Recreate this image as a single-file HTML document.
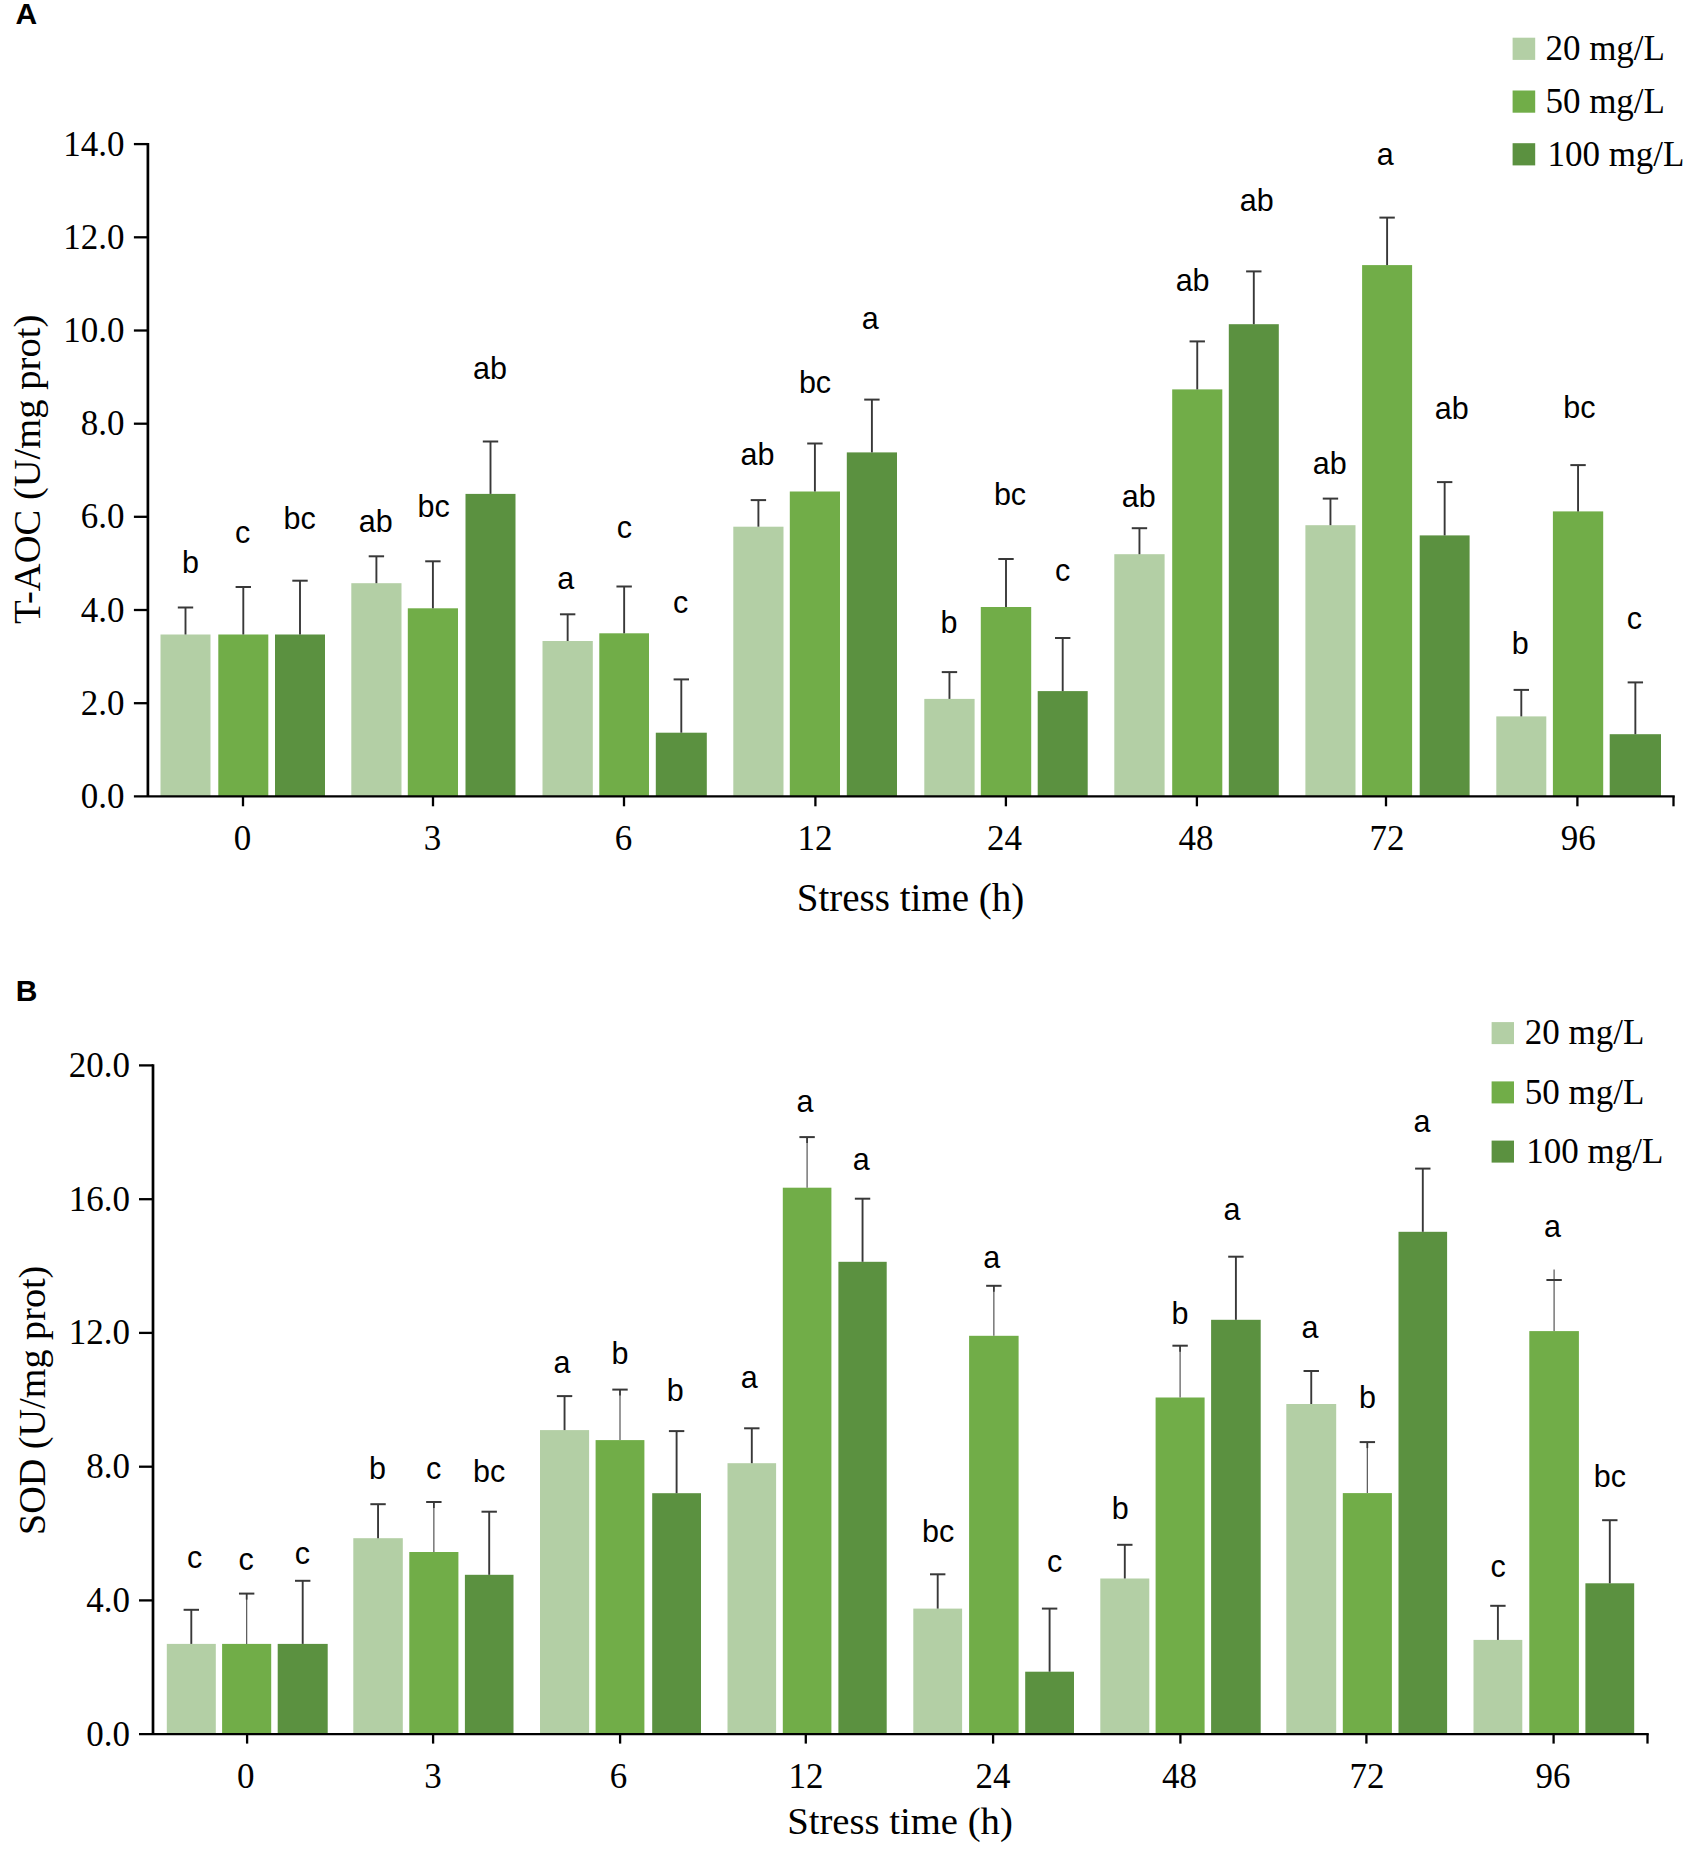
<!DOCTYPE html>
<html lang="en">
<head>
<meta charset="utf-8">
<title>T-AOC and SOD under stress</title>
<style>
html,body{margin:0;padding:0;background:#fff;}
svg{display:block;}
text{fill:#000;}
</style>
</head>
<body>
<svg width="1694" height="1862" viewBox="0 0 1694 1862">
<rect width="1694" height="1862" fill="#fff"/>
<g id="panelA">
<rect x="160.5" y="634.5" width="50" height="161.9" fill="#b3cfa5"/>
<rect x="218.3" y="634.5" width="50" height="161.9" fill="#71ad48"/>
<rect x="275" y="634.5" width="50" height="161.9" fill="#5b9140"/>
<rect x="351.3" y="583.2" width="50.2" height="213.2" fill="#b3cfa5"/>
<rect x="407.8" y="608.3" width="50.2" height="188.1" fill="#71ad48"/>
<rect x="465.5" y="493.9" width="50" height="302.5" fill="#5b9140"/>
<rect x="542.5" y="641" width="50.3" height="155.4" fill="#b3cfa5"/>
<rect x="599.3" y="633.3" width="49.7" height="163.1" fill="#71ad48"/>
<rect x="655.8" y="732.7" width="51" height="63.7" fill="#5b9140"/>
<rect x="733.3" y="526.7" width="50.2" height="269.7" fill="#b3cfa5"/>
<rect x="789.8" y="491.5" width="50.2" height="304.9" fill="#71ad48"/>
<rect x="846.8" y="452.4" width="50.2" height="344" fill="#5b9140"/>
<rect x="924.3" y="698.9" width="50.3" height="97.5" fill="#b3cfa5"/>
<rect x="980.8" y="607" width="50.4" height="189.4" fill="#71ad48"/>
<rect x="1037.7" y="691.1" width="50" height="105.3" fill="#5b9140"/>
<rect x="1114.3" y="554.2" width="50.3" height="242.2" fill="#b3cfa5"/>
<rect x="1172.2" y="389.4" width="50.1" height="407" fill="#71ad48"/>
<rect x="1228.8" y="324.2" width="50" height="472.2" fill="#5b9140"/>
<rect x="1305.4" y="525.2" width="50.1" height="271.2" fill="#b3cfa5"/>
<rect x="1362.1" y="265.1" width="50" height="531.3" fill="#71ad48"/>
<rect x="1419.7" y="535.4" width="49.9" height="261" fill="#5b9140"/>
<rect x="1496.3" y="716.4" width="50" height="80" fill="#b3cfa5"/>
<rect x="1552.9" y="511.4" width="50.3" height="285" fill="#71ad48"/>
<rect x="1609.7" y="734.2" width="51.3" height="62.2" fill="#5b9140"/>
<line x1="185.5" y1="634.5" x2="185.5" y2="607.5" stroke="#383838" stroke-width="1.9"/>
<line x1="177.8" y1="607.5" x2="193.2" y2="607.5" stroke="#383838" stroke-width="2"/>
<line x1="243.3" y1="634.5" x2="243.3" y2="587" stroke="#383838" stroke-width="1.9"/>
<line x1="235.6" y1="587" x2="251" y2="587" stroke="#383838" stroke-width="2"/>
<line x1="300" y1="634.5" x2="300" y2="580.7" stroke="#383838" stroke-width="1.9"/>
<line x1="292.3" y1="580.7" x2="307.7" y2="580.7" stroke="#383838" stroke-width="2"/>
<line x1="376.4" y1="583.2" x2="376.4" y2="556.3" stroke="#383838" stroke-width="1.9"/>
<line x1="368.7" y1="556.3" x2="384.1" y2="556.3" stroke="#383838" stroke-width="2"/>
<line x1="432.9" y1="608.3" x2="432.9" y2="561.3" stroke="#383838" stroke-width="1.9"/>
<line x1="425.2" y1="561.3" x2="440.6" y2="561.3" stroke="#383838" stroke-width="2"/>
<line x1="490.5" y1="493.9" x2="490.5" y2="441.5" stroke="#383838" stroke-width="1.9"/>
<line x1="482.8" y1="441.5" x2="498.2" y2="441.5" stroke="#383838" stroke-width="2"/>
<line x1="567.65" y1="641" x2="567.65" y2="614.3" stroke="#383838" stroke-width="1.9"/>
<line x1="559.95" y1="614.3" x2="575.35" y2="614.3" stroke="#383838" stroke-width="2"/>
<line x1="624.15" y1="633.3" x2="624.15" y2="586.5" stroke="#383838" stroke-width="1.9"/>
<line x1="616.45" y1="586.5" x2="631.85" y2="586.5" stroke="#383838" stroke-width="2"/>
<line x1="681.3" y1="732.7" x2="681.3" y2="679.4" stroke="#383838" stroke-width="1.9"/>
<line x1="673.6" y1="679.4" x2="689" y2="679.4" stroke="#383838" stroke-width="2"/>
<line x1="758.4" y1="526.7" x2="758.4" y2="500.1" stroke="#383838" stroke-width="1.9"/>
<line x1="750.7" y1="500.1" x2="766.1" y2="500.1" stroke="#383838" stroke-width="2"/>
<line x1="814.9" y1="491.5" x2="814.9" y2="443.5" stroke="#383838" stroke-width="1.9"/>
<line x1="807.2" y1="443.5" x2="822.6" y2="443.5" stroke="#383838" stroke-width="2"/>
<line x1="871.9" y1="452.4" x2="871.9" y2="399.6" stroke="#383838" stroke-width="1.9"/>
<line x1="864.2" y1="399.6" x2="879.6" y2="399.6" stroke="#383838" stroke-width="2"/>
<line x1="949.45" y1="698.9" x2="949.45" y2="672.1" stroke="#383838" stroke-width="1.9"/>
<line x1="941.75" y1="672.1" x2="957.15" y2="672.1" stroke="#383838" stroke-width="2"/>
<line x1="1006" y1="607" x2="1006" y2="559" stroke="#383838" stroke-width="1.9"/>
<line x1="998.3" y1="559" x2="1013.7" y2="559" stroke="#383838" stroke-width="2"/>
<line x1="1062.7" y1="691.1" x2="1062.7" y2="638" stroke="#383838" stroke-width="1.9"/>
<line x1="1055" y1="638" x2="1070.4" y2="638" stroke="#383838" stroke-width="2"/>
<line x1="1139.45" y1="554.2" x2="1139.45" y2="528.2" stroke="#383838" stroke-width="1.9"/>
<line x1="1131.75" y1="528.2" x2="1147.15" y2="528.2" stroke="#383838" stroke-width="2"/>
<line x1="1197.25" y1="389.4" x2="1197.25" y2="341.4" stroke="#383838" stroke-width="1.9"/>
<line x1="1189.55" y1="341.4" x2="1204.95" y2="341.4" stroke="#383838" stroke-width="2"/>
<line x1="1253.8" y1="324.2" x2="1253.8" y2="271.4" stroke="#383838" stroke-width="1.9"/>
<line x1="1246.1" y1="271.4" x2="1261.5" y2="271.4" stroke="#383838" stroke-width="2"/>
<line x1="1330.45" y1="525.2" x2="1330.45" y2="498.6" stroke="#383838" stroke-width="1.9"/>
<line x1="1322.75" y1="498.6" x2="1338.15" y2="498.6" stroke="#383838" stroke-width="2"/>
<line x1="1387.1" y1="265.1" x2="1387.1" y2="217.6" stroke="#383838" stroke-width="1.9"/>
<line x1="1379.4" y1="217.6" x2="1394.8" y2="217.6" stroke="#383838" stroke-width="2"/>
<line x1="1444.65" y1="535.4" x2="1444.65" y2="482.1" stroke="#383838" stroke-width="1.9"/>
<line x1="1436.95" y1="482.1" x2="1452.35" y2="482.1" stroke="#383838" stroke-width="2"/>
<line x1="1521.3" y1="716.4" x2="1521.3" y2="689.9" stroke="#383838" stroke-width="1.9"/>
<line x1="1513.6" y1="689.9" x2="1529" y2="689.9" stroke="#383838" stroke-width="2"/>
<line x1="1578.05" y1="511.4" x2="1578.05" y2="465.1" stroke="#383838" stroke-width="1.9"/>
<line x1="1570.35" y1="465.1" x2="1585.75" y2="465.1" stroke="#383838" stroke-width="2"/>
<line x1="1635.35" y1="734.2" x2="1635.35" y2="682.4" stroke="#383838" stroke-width="1.9"/>
<line x1="1627.65" y1="682.4" x2="1643.05" y2="682.4" stroke="#383838" stroke-width="2"/>
<g stroke="#000" stroke-width="2.3" fill="none">
<path stroke-width="2.7" d="M147.9 142.95V796.4"/>
<path d="M133.9 796.4H1674.75"/>
<path d="M133.9 144.1H147.9"/>
<path d="M133.9 237.3H147.9"/>
<path d="M133.9 330.5H147.9"/>
<path d="M133.9 423.7H147.9"/>
<path d="M133.9 516.8H147.9"/>
<path d="M133.9 610H147.9"/>
<path d="M133.9 703.2H147.9"/>
<path d="M243 796.4V806.3"/>
<path d="M433 796.4V806.3"/>
<path d="M624 796.4V806.3"/>
<path d="M815.4 796.4V806.3"/>
<path d="M1005.9 796.4V806.3"/>
<path d="M1196.9 796.4V806.3"/>
<path d="M1386 796.4V806.3"/>
<path d="M1577.4 796.4V806.3"/>
<path d="M1673.5 796.4V806.3"/>
</g>
<g font-family='"Liberation Serif", "DejaVu Serif", serif' font-size="35" fill="#000">
<text x="124.6" y="155.7" text-anchor="end">14.0</text>
<text x="124.6" y="248.9" text-anchor="end">12.0</text>
<text x="124.6" y="342.1" text-anchor="end">10.0</text>
<text x="124.6" y="435.3" text-anchor="end">8.0</text>
<text x="124.6" y="528.4" text-anchor="end">6.0</text>
<text x="124.6" y="621.6" text-anchor="end">4.0</text>
<text x="124.6" y="714.8" text-anchor="end">2.0</text>
<text x="124.6" y="808" text-anchor="end">0.0</text>
<text x="242.4" y="850.4" text-anchor="middle">0</text>
<text x="432.5" y="850.4" text-anchor="middle">3</text>
<text x="623.6" y="850.4" text-anchor="middle">6</text>
<text x="815.1" y="850.4" text-anchor="middle">12</text>
<text x="1004.4" y="850.4" text-anchor="middle">24</text>
<text x="1195.9" y="850.4" text-anchor="middle">48</text>
<text x="1387.1" y="850.4" text-anchor="middle">72</text>
<text x="1578.2" y="850.4" text-anchor="middle">96</text>
</g>
<text x="910.5" y="910.9" text-anchor="middle" font-family='"Liberation Serif", "DejaVu Serif", serif' font-size="39">Stress time (h)</text>
<text transform="translate(40 469.4) rotate(-90)" text-anchor="middle" font-family='"Liberation Serif", "DejaVu Serif", serif' font-size="38.6">T-AOC (U/mg prot)</text>
<g font-family='"Liberation Sans", "DejaVu Sans", sans-serif' font-size="30.5" fill="#000" text-anchor="middle">
<text x="190.5" y="572.7">b</text>
<text x="242.5" y="543">c</text>
<text x="299.6" y="528.6">bc</text>
<text x="375.8" y="532">ab</text>
<text x="433.6" y="517">bc</text>
<text x="490" y="378.8">ab</text>
<text x="565.8" y="588.8">a</text>
<text x="624.4" y="538.3">c</text>
<text x="680.6" y="612.8">c</text>
<text x="757.5" y="464.5">ab</text>
<text x="815" y="392.8">bc</text>
<text x="870.2" y="329">a</text>
<text x="949" y="633">b</text>
<text x="1010" y="504.6">bc</text>
<text x="1062.5" y="580.5">c</text>
<text x="1138.8" y="507">ab</text>
<text x="1192.6" y="291.3">ab</text>
<text x="1256.7" y="211.3">ab</text>
<text x="1329.8" y="474">ab</text>
<text x="1385.2" y="164.5">a</text>
<text x="1451.8" y="419">ab</text>
<text x="1520.3" y="654.3">b</text>
<text x="1579.4" y="418.3">bc</text>
<text x="1634.3" y="628.5">c</text>
</g>
<rect x="1512.6" y="37.7" width="22.6" height="22.2" fill="#b3cfa5"/>
<text x="1545.4" y="60.2" font-family='"Liberation Serif", "DejaVu Serif", serif' font-size="35">20 mg/L</text>
<rect x="1512.6" y="90.5" width="22.6" height="22.2" fill="#71ad48"/>
<text x="1545.4" y="113.1" font-family='"Liberation Serif", "DejaVu Serif", serif' font-size="35">50 mg/L</text>
<rect x="1512.6" y="143.2" width="22.6" height="22.2" fill="#5b9140"/>
<text x="1547.4" y="165.9" font-family='"Liberation Serif", "DejaVu Serif", serif' font-size="35">100 mg/L</text>
<text x="15.6" y="23.9" font-family='"Liberation Sans", "DejaVu Sans", sans-serif' font-weight="bold" font-size="30">A</text>
</g>
<g id="panelB">
<rect x="166.8" y="1643.9" width="49" height="90.3" fill="#b3cfa5"/>
<rect x="222.1" y="1643.9" width="49.1" height="90.3" fill="#71ad48"/>
<rect x="277.7" y="1643.9" width="50" height="90.3" fill="#5b9140"/>
<rect x="353.3" y="1538.2" width="49.5" height="196" fill="#b3cfa5"/>
<rect x="409.3" y="1552" width="49.1" height="182.2" fill="#71ad48"/>
<rect x="464.9" y="1574.8" width="48.6" height="159.4" fill="#5b9140"/>
<rect x="540" y="1430.1" width="49.1" height="304.1" fill="#b3cfa5"/>
<rect x="595.6" y="1440.1" width="48.8" height="294.1" fill="#71ad48"/>
<rect x="652.2" y="1493.2" width="48.8" height="241" fill="#5b9140"/>
<rect x="727.5" y="1463.2" width="48.6" height="271" fill="#b3cfa5"/>
<rect x="782.8" y="1187.7" width="48.6" height="546.5" fill="#71ad48"/>
<rect x="838.4" y="1261.8" width="48.3" height="472.4" fill="#5b9140"/>
<rect x="913.3" y="1608.6" width="48.8" height="125.6" fill="#b3cfa5"/>
<rect x="969.1" y="1335.8" width="49.5" height="398.4" fill="#71ad48"/>
<rect x="1025.2" y="1671.7" width="48.8" height="62.5" fill="#5b9140"/>
<rect x="1100.3" y="1578.5" width="49" height="155.7" fill="#b3cfa5"/>
<rect x="1155.6" y="1397.5" width="49" height="336.7" fill="#71ad48"/>
<rect x="1211.1" y="1319.8" width="49.6" height="414.4" fill="#5b9140"/>
<rect x="1286.3" y="1404" width="49.9" height="330.2" fill="#b3cfa5"/>
<rect x="1342.8" y="1493.1" width="49.1" height="241.1" fill="#71ad48"/>
<rect x="1398.5" y="1231.8" width="48.6" height="502.4" fill="#5b9140"/>
<rect x="1473.5" y="1639.9" width="48.8" height="94.3" fill="#b3cfa5"/>
<rect x="1529.3" y="1331.1" width="49.6" height="403.1" fill="#71ad48"/>
<rect x="1585.4" y="1583.3" width="48.8" height="150.9" fill="#5b9140"/>
<line x1="191.3" y1="1643.9" x2="191.3" y2="1609.8" stroke="#383838" stroke-width="1.9"/>
<line x1="183.6" y1="1609.8" x2="199" y2="1609.8" stroke="#383838" stroke-width="2"/>
<line x1="246.65" y1="1643.9" x2="246.65" y2="1593.6" stroke="#5c5c5c" stroke-width="1.25"/>
<line x1="246.65" y1="1593.6" x2="246.65" y2="1599.6" stroke="#383838" stroke-width="1.7"/>
<line x1="238.95" y1="1593.6" x2="254.35" y2="1593.6" stroke="#383838" stroke-width="2"/>
<line x1="302.7" y1="1643.9" x2="302.7" y2="1580.8" stroke="#383838" stroke-width="1.9"/>
<line x1="295" y1="1580.8" x2="310.4" y2="1580.8" stroke="#383838" stroke-width="2"/>
<line x1="378.05" y1="1538.2" x2="378.05" y2="1504.2" stroke="#383838" stroke-width="1.9"/>
<line x1="370.35" y1="1504.2" x2="385.75" y2="1504.2" stroke="#383838" stroke-width="2"/>
<line x1="433.85" y1="1552" x2="433.85" y2="1502" stroke="#5c5c5c" stroke-width="1.25"/>
<line x1="433.85" y1="1502" x2="433.85" y2="1508" stroke="#383838" stroke-width="1.7"/>
<line x1="426.15" y1="1502" x2="441.55" y2="1502" stroke="#383838" stroke-width="2"/>
<line x1="489.2" y1="1574.8" x2="489.2" y2="1511.7" stroke="#383838" stroke-width="1.9"/>
<line x1="481.5" y1="1511.7" x2="496.9" y2="1511.7" stroke="#383838" stroke-width="2"/>
<line x1="564.55" y1="1430.1" x2="564.55" y2="1396.1" stroke="#383838" stroke-width="1.9"/>
<line x1="556.85" y1="1396.1" x2="572.25" y2="1396.1" stroke="#383838" stroke-width="2"/>
<line x1="620" y1="1440.1" x2="620" y2="1389.6" stroke="#5c5c5c" stroke-width="1.25"/>
<line x1="620" y1="1389.6" x2="620" y2="1395.6" stroke="#383838" stroke-width="1.7"/>
<line x1="612.3" y1="1389.6" x2="627.7" y2="1389.6" stroke="#383838" stroke-width="2"/>
<line x1="676.6" y1="1493.2" x2="676.6" y2="1431.1" stroke="#383838" stroke-width="1.9"/>
<line x1="668.9" y1="1431.1" x2="684.3" y2="1431.1" stroke="#383838" stroke-width="2"/>
<line x1="751.8" y1="1463.2" x2="751.8" y2="1428.3" stroke="#383838" stroke-width="1.9"/>
<line x1="744.1" y1="1428.3" x2="759.5" y2="1428.3" stroke="#383838" stroke-width="2"/>
<line x1="807.1" y1="1187.7" x2="807.1" y2="1137.1" stroke="#5c5c5c" stroke-width="1.25"/>
<line x1="807.1" y1="1137.1" x2="807.1" y2="1143.1" stroke="#383838" stroke-width="1.7"/>
<line x1="799.4" y1="1137.1" x2="814.8" y2="1137.1" stroke="#383838" stroke-width="2"/>
<line x1="862.55" y1="1261.8" x2="862.55" y2="1198.7" stroke="#383838" stroke-width="1.9"/>
<line x1="854.85" y1="1198.7" x2="870.25" y2="1198.7" stroke="#383838" stroke-width="2"/>
<line x1="937.7" y1="1608.6" x2="937.7" y2="1574.3" stroke="#383838" stroke-width="1.9"/>
<line x1="930" y1="1574.3" x2="945.4" y2="1574.3" stroke="#383838" stroke-width="2"/>
<line x1="993.85" y1="1335.8" x2="993.85" y2="1285.8" stroke="#5c5c5c" stroke-width="1.25"/>
<line x1="993.85" y1="1285.8" x2="993.85" y2="1291.8" stroke="#383838" stroke-width="1.7"/>
<line x1="986.15" y1="1285.8" x2="1001.55" y2="1285.8" stroke="#383838" stroke-width="2"/>
<line x1="1049.6" y1="1671.7" x2="1049.6" y2="1608.6" stroke="#383838" stroke-width="1.9"/>
<line x1="1041.9" y1="1608.6" x2="1057.3" y2="1608.6" stroke="#383838" stroke-width="2"/>
<line x1="1124.8" y1="1578.5" x2="1124.8" y2="1544.8" stroke="#383838" stroke-width="1.9"/>
<line x1="1117.1" y1="1544.8" x2="1132.5" y2="1544.8" stroke="#383838" stroke-width="2"/>
<line x1="1180.1" y1="1397.5" x2="1180.1" y2="1345.7" stroke="#5c5c5c" stroke-width="1.25"/>
<line x1="1180.1" y1="1345.7" x2="1180.1" y2="1351.7" stroke="#383838" stroke-width="1.7"/>
<line x1="1172.4" y1="1345.7" x2="1187.8" y2="1345.7" stroke="#383838" stroke-width="2"/>
<line x1="1235.9" y1="1319.8" x2="1235.9" y2="1256.7" stroke="#383838" stroke-width="1.9"/>
<line x1="1228.2" y1="1256.7" x2="1243.6" y2="1256.7" stroke="#383838" stroke-width="2"/>
<line x1="1311.25" y1="1404" x2="1311.25" y2="1371" stroke="#383838" stroke-width="1.9"/>
<line x1="1303.55" y1="1371" x2="1318.95" y2="1371" stroke="#383838" stroke-width="2"/>
<line x1="1367.35" y1="1493.1" x2="1367.35" y2="1442.1" stroke="#5c5c5c" stroke-width="1.25"/>
<line x1="1367.35" y1="1442.1" x2="1367.35" y2="1448.1" stroke="#383838" stroke-width="1.7"/>
<line x1="1359.65" y1="1442.1" x2="1375.05" y2="1442.1" stroke="#383838" stroke-width="2"/>
<line x1="1422.8" y1="1231.8" x2="1422.8" y2="1168.6" stroke="#383838" stroke-width="1.9"/>
<line x1="1415.1" y1="1168.6" x2="1430.5" y2="1168.6" stroke="#383838" stroke-width="2"/>
<line x1="1497.9" y1="1639.9" x2="1497.9" y2="1605.8" stroke="#383838" stroke-width="1.9"/>
<line x1="1490.2" y1="1605.8" x2="1505.6" y2="1605.8" stroke="#383838" stroke-width="2"/>
<line x1="1554.1" y1="1331.1" x2="1554.1" y2="1269.5" stroke="#5c5c5c" stroke-width="1.25"/>
<line x1="1546.4" y1="1280" x2="1561.8" y2="1280" stroke="#383838" stroke-width="2"/>
<line x1="1609.8" y1="1583.3" x2="1609.8" y2="1520.2" stroke="#383838" stroke-width="1.9"/>
<line x1="1602.1" y1="1520.2" x2="1617.5" y2="1520.2" stroke="#383838" stroke-width="2"/>
<g stroke="#000" stroke-width="2.3" fill="none">
<path stroke-width="2.7" d="M153 1064.25V1734.2"/>
<path d="M139 1734.2H1648.75"/>
<path d="M139 1065.4H153"/>
<path d="M139 1199.2H153"/>
<path d="M139 1332.9H153"/>
<path d="M139 1466.7H153"/>
<path d="M139 1600.4H153"/>
<path d="M247.1 1734.2V1743.6"/>
<path d="M433.1 1734.2V1743.6"/>
<path d="M620.1 1734.2V1743.6"/>
<path d="M805.8 1734.2V1743.6"/>
<path d="M993.1 1734.2V1743.6"/>
<path d="M1180.4 1734.2V1743.6"/>
<path d="M1366.4 1734.2V1743.6"/>
<path d="M1553.6 1734.2V1743.6"/>
<path d="M1647.5 1734.2V1743.6"/>
</g>
<g font-family='"Liberation Serif", "DejaVu Serif", serif' font-size="35" fill="#000">
<text x="129.9" y="1076.8" text-anchor="end">20.0</text>
<text x="129.9" y="1210.6" text-anchor="end">16.0</text>
<text x="129.9" y="1344.3" text-anchor="end">12.0</text>
<text x="129.9" y="1478.1" text-anchor="end">8.0</text>
<text x="129.9" y="1611.8" text-anchor="end">4.0</text>
<text x="129.9" y="1745.6" text-anchor="end">0.0</text>
<text x="245.7" y="1787.6" text-anchor="middle">0</text>
<text x="432.9" y="1787.6" text-anchor="middle">3</text>
<text x="618.5" y="1787.6" text-anchor="middle">6</text>
<text x="806" y="1787.6" text-anchor="middle">12</text>
<text x="992.9" y="1787.6" text-anchor="middle">24</text>
<text x="1179.5" y="1787.6" text-anchor="middle">48</text>
<text x="1366.9" y="1787.6" text-anchor="middle">72</text>
<text x="1552.9" y="1787.6" text-anchor="middle">96</text>
</g>
<text x="900" y="1833.5" text-anchor="middle" font-family='"Liberation Serif", "DejaVu Serif", serif' font-size="38.7">Stress time (h)</text>
<text transform="translate(45 1400.4) rotate(-90)" text-anchor="middle" font-family='"Liberation Serif", "DejaVu Serif", serif' font-size="38.2">SOD (U/mg prot)</text>
<g font-family='"Liberation Sans", "DejaVu Sans", sans-serif' font-size="30.5" fill="#000" text-anchor="middle">
<text x="194.7" y="1568.3">c</text>
<text x="246.1" y="1570.3">c</text>
<text x="302.4" y="1563.5">c</text>
<text x="377.4" y="1479.2">b</text>
<text x="433.5" y="1479.2">c</text>
<text x="489.2" y="1482.2">bc</text>
<text x="562.1" y="1372.5">a</text>
<text x="620.1" y="1364.3">b</text>
<text x="675.3" y="1400.8">b</text>
<text x="749.3" y="1387.7">a</text>
<text x="805" y="1111.8">a</text>
<text x="861.3" y="1169.6">a</text>
<text x="938.2" y="1542">bc</text>
<text x="991.7" y="1267.8">a</text>
<text x="1054.6" y="1571.5">c</text>
<text x="1120.3" y="1519.2">b</text>
<text x="1180.1" y="1324.1">b</text>
<text x="1232" y="1220.2">a</text>
<text x="1310.1" y="1338.3">a</text>
<text x="1367.4" y="1407.5">b</text>
<text x="1422" y="1132.1">a</text>
<text x="1498.2" y="1577.3">c</text>
<text x="1552.6" y="1236.8">a</text>
<text x="1609.8" y="1487.2">bc</text>
</g>
<rect x="1491.6" y="1022.1" width="22.4" height="22" fill="#b3cfa5"/>
<text x="1524.7" y="1043.9" font-family='"Liberation Serif", "DejaVu Serif", serif' font-size="35">20 mg/L</text>
<rect x="1491.6" y="1081.4" width="22.4" height="22" fill="#71ad48"/>
<text x="1524.7" y="1103.8" font-family='"Liberation Serif", "DejaVu Serif", serif' font-size="35">50 mg/L</text>
<rect x="1491.6" y="1140.6" width="22.4" height="22" fill="#5b9140"/>
<text x="1526.2" y="1163.2" font-family='"Liberation Serif", "DejaVu Serif", serif' font-size="35">100 mg/L</text>
<text x="15.7" y="1001.3" font-family='"Liberation Sans", "DejaVu Sans", sans-serif' font-weight="bold" font-size="30">B</text>
</g>
</svg>
</body>
</html>
